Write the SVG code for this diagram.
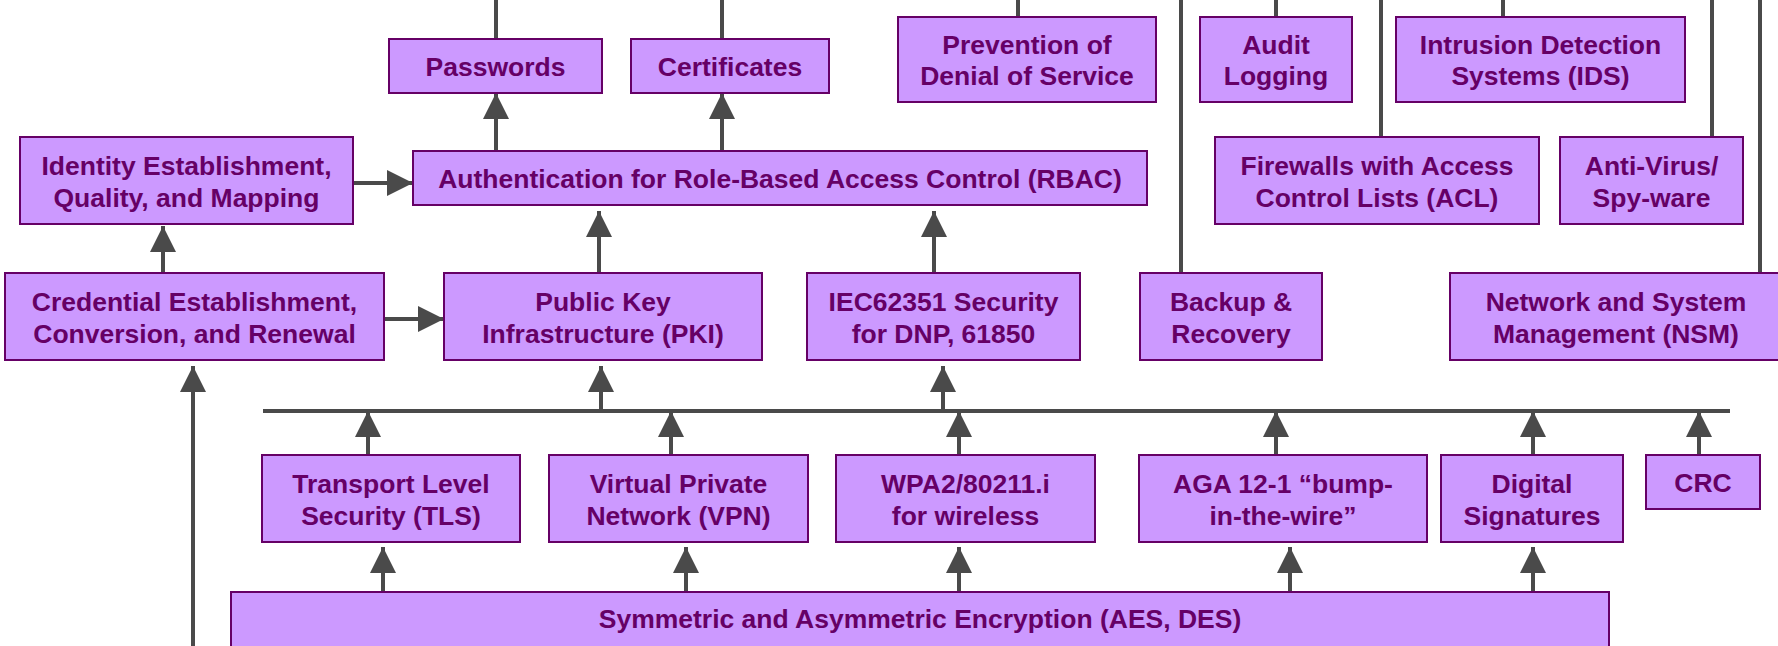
<svg xmlns="http://www.w3.org/2000/svg" width="1778" height="646" viewBox="0 0 1778 646">
<defs>
<style>
.n rect{fill:#CC99FF;stroke:#660066;stroke-width:2}
.n text{font-family:"Liberation Sans",Arial,sans-serif;font-weight:bold;font-size:26.5px;fill:#660066;text-anchor:middle}
.c line{stroke:#4A4A4A;stroke-width:4;fill:none}
.c line.a{marker-end:url(#ah)}
</style>
<marker id="ah" markerUnits="userSpaceOnUse" markerWidth="26" markerHeight="26" viewBox="0 0 26 26" refX="26" refY="13" orient="auto">
<path d="M0,0 L26,13 L0,26 z" fill="#4A4A4A"/>
</marker>
</defs>
<rect width="1778" height="646" fill="#FFFFFF"/>
<g id="connectors" class="c">
<line x1="496" y1="0" x2="496" y2="39"/>
<line x1="722" y1="0" x2="722" y2="39"/>
<line x1="1018" y1="0" x2="1018" y2="17"/>
<line x1="1276" y1="0" x2="1276" y2="17"/>
<line x1="1503" y1="0" x2="1503" y2="17"/>
<line x1="1381" y1="0" x2="1381" y2="137"/>
<line x1="1712" y1="0" x2="1712" y2="137"/>
<line x1="1181" y1="0" x2="1181" y2="273"/>
<line x1="1760" y1="0" x2="1760" y2="273"/>
<line class="a" x1="496" y1="151" x2="496" y2="93"/>
<line class="a" x1="722" y1="151" x2="722" y2="93"/>
<line class="a" x1="353" y1="183" x2="413" y2="183"/>
<line class="a" x1="163" y1="273" x2="163" y2="226"/>
<line class="a" x1="384" y1="319" x2="444" y2="319"/>
<line class="a" x1="599" y1="273" x2="599" y2="211"/>
<line class="a" x1="934" y1="273" x2="934" y2="211"/>
<line x1="263" y1="411" x2="1730" y2="411"/>
<line class="a" x1="601" y1="411" x2="601" y2="366"/>
<line class="a" x1="943" y1="411" x2="943" y2="366"/>
<line class="a" x1="368" y1="455" x2="368" y2="411"/>
<line class="a" x1="671" y1="455" x2="671" y2="411"/>
<line class="a" x1="959" y1="455" x2="959" y2="411"/>
<line class="a" x1="1276" y1="455" x2="1276" y2="411"/>
<line class="a" x1="1533" y1="455" x2="1533" y2="411"/>
<line class="a" x1="1699" y1="455" x2="1699" y2="411"/>
<line class="a" x1="383" y1="592" x2="383" y2="547"/>
<line class="a" x1="686" y1="592" x2="686" y2="547"/>
<line class="a" x1="959" y1="592" x2="959" y2="547"/>
<line class="a" x1="1290" y1="592" x2="1290" y2="547"/>
<line class="a" x1="1533" y1="592" x2="1533" y2="547"/>
<line class="a" x1="193" y1="650" x2="193" y2="366"/>
</g>
<g id="passwords" class="n"><rect x="389" y="39" width="213" height="54"/><text x="495.5" y="75.5">Passwords</text></g>
<g id="certificates" class="n"><rect x="631" y="39" width="198" height="54"/><text x="730" y="75.5">Certificates</text></g>
<g id="prevention" class="n"><rect x="898" y="17" width="258" height="85"/><text x="1027" y="53.5">Prevention of</text><text x="1027" y="85">Denial of Service</text></g>
<g id="audit" class="n"><rect x="1200" y="17" width="152" height="85"/><text x="1276" y="53.5">Audit</text><text x="1276" y="85">Logging</text></g>
<g id="ids" class="n"><rect x="1396" y="17" width="289" height="85"/><text x="1540.5" y="53.5">Intrusion Detection</text><text x="1540.5" y="85">Systems (IDS)</text></g>
<g id="identity" class="n"><rect x="20" y="137" width="333" height="87"/><text x="186.5" y="175">Identity Establishment,</text><text x="186.5" y="206.5">Quality, and Mapping</text></g>
<g id="rbac" class="n"><rect x="413" y="151" width="734" height="54"/><text x="780" y="187.5">Authentication for Role-Based Access Control (RBAC)</text></g>
<g id="firewalls" class="n"><rect x="1215" y="137" width="324" height="87"/><text x="1377" y="175">Firewalls with Access</text><text x="1377" y="206.5">Control Lists (ACL)</text></g>
<g id="antivirus" class="n"><rect x="1560" y="137" width="183" height="87"/><text x="1651.5" y="175">Anti-Virus/</text><text x="1651.5" y="206.5">Spy-ware</text></g>
<g id="credential" class="n"><rect x="5" y="273" width="379" height="87"/><text x="194.5" y="311">Credential Establishment,</text><text x="194.5" y="342.5">Conversion, and Renewal</text></g>
<g id="pki" class="n"><rect x="444" y="273" width="318" height="87"/><text x="603" y="311">Public Key</text><text x="603" y="342.5">Infrastructure (PKI)</text></g>
<g id="iec62351" class="n"><rect x="807" y="273" width="273" height="87"/><text x="943.5" y="311">IEC62351 Security</text><text x="943.5" y="342.5">for DNP, 61850</text></g>
<g id="backup" class="n"><rect x="1140" y="273" width="182" height="87"/><text x="1231" y="311">Backup &amp;</text><text x="1231" y="342.5">Recovery</text></g>
<g id="nsm" class="n"><rect x="1450" y="273" width="332" height="87"/><text x="1616" y="311">Network and System</text><text x="1616" y="342.5">Management (NSM)</text></g>
<g id="tls" class="n"><rect x="262" y="455" width="258" height="87"/><text x="391" y="493">Transport Level</text><text x="391" y="524.5">Security (TLS)</text></g>
<g id="vpn" class="n"><rect x="549" y="455" width="259" height="87"/><text x="678.5" y="493">Virtual Private</text><text x="678.5" y="524.5">Network (VPN)</text></g>
<g id="wpa2" class="n"><rect x="836" y="455" width="259" height="87"/><text x="965.5" y="493">WPA2/80211.i</text><text x="965.5" y="524.5">for wireless</text></g>
<g id="aga" class="n"><rect x="1139" y="455" width="288" height="87"/><text x="1283" y="493">AGA 12-1 “bump-</text><text x="1283" y="524.5">in-the-wire”</text></g>
<g id="digsig" class="n"><rect x="1441" y="455" width="182" height="87"/><text x="1532" y="493">Digital</text><text x="1532" y="524.5">Signatures</text></g>
<g id="crc" class="n"><rect x="1646" y="455" width="114" height="54"/><text x="1703" y="491.5">CRC</text></g>
<g id="encryption" class="n"><rect x="231" y="592" width="1378" height="70"/><text x="920" y="628">Symmetric and Asymmetric Encryption (AES, DES)</text></g>
</svg>
